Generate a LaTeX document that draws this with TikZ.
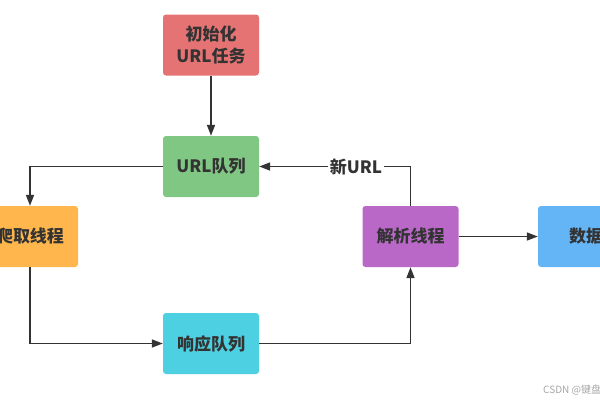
\documentclass[tikz,border=0pt]{standalone}
\usepackage{fontspec}
\setmainfont{Noto Sans CJK SC}
\usetikzlibrary{arrows.meta}
\definecolor{boxR}{RGB}{229,115,115}
\definecolor{boxG}{RGB}{129,199,132}
\definecolor{boxO}{RGB}{255,183,77}
\definecolor{boxP}{RGB}{186,104,200}
\definecolor{boxC}{RGB}{77,208,225}
\definecolor{boxB}{RGB}{100,181,246}
\definecolor{ink}{RGB}{51,51,51}

\begin{document}
\begin{tikzpicture}[x=1pt,y=-1pt,>={Triangle[length=11pt,width=8pt]},
  box/.style={rounded corners=3pt,minimum width=96pt,minimum height=61pt,inner sep=0pt,align=center,text=ink,font=\fontsize{17}{22}\selectfont\bfseries},
  link/.style={->,ink,line width=1.6pt}]
\useasboundingbox (0,0) rectangle (600,400);
\clip (0,0) rectangle (600,400);
\node[box,fill=boxR] (init) at (211,45) {初始化\\URL任务};
\node[box,fill=boxG] (queue) at (211,166.5) {URL队列};
\node[box,fill=boxO] (crawl) at (30,236.5) {爬取线程};
\node[box,fill=boxC] (resp) at (211,343.5) {响应队列};
\node[box,fill=boxP] (parse) at (410.5,236.5) {解析线程};
\node[box,fill=boxB] (data) at (586,236.5) {数据};
\draw[link] (init) -- (queue);
\draw[link] (queue.west) -| (crawl.north);
\draw[link] (crawl.south) |- (resp.west);
\draw[link] (resp.east) -| (parse.south);
\draw[link] (parse.north) |- (queue.east) node[pos=0.68,fill=white,inner sep=2pt,text=ink,font=\fontsize{17}{17}\selectfont\bfseries] (newurl) {新URL};
\draw[link] (parse.east) -- (data.west);
% watermark
\node[anchor=base west,inner sep=0pt,text=black!35,font=\fontsize{10}{10}\selectfont] (mark) at (543,393) {CSDN @键盘};
\end{tikzpicture}
\end{document}
